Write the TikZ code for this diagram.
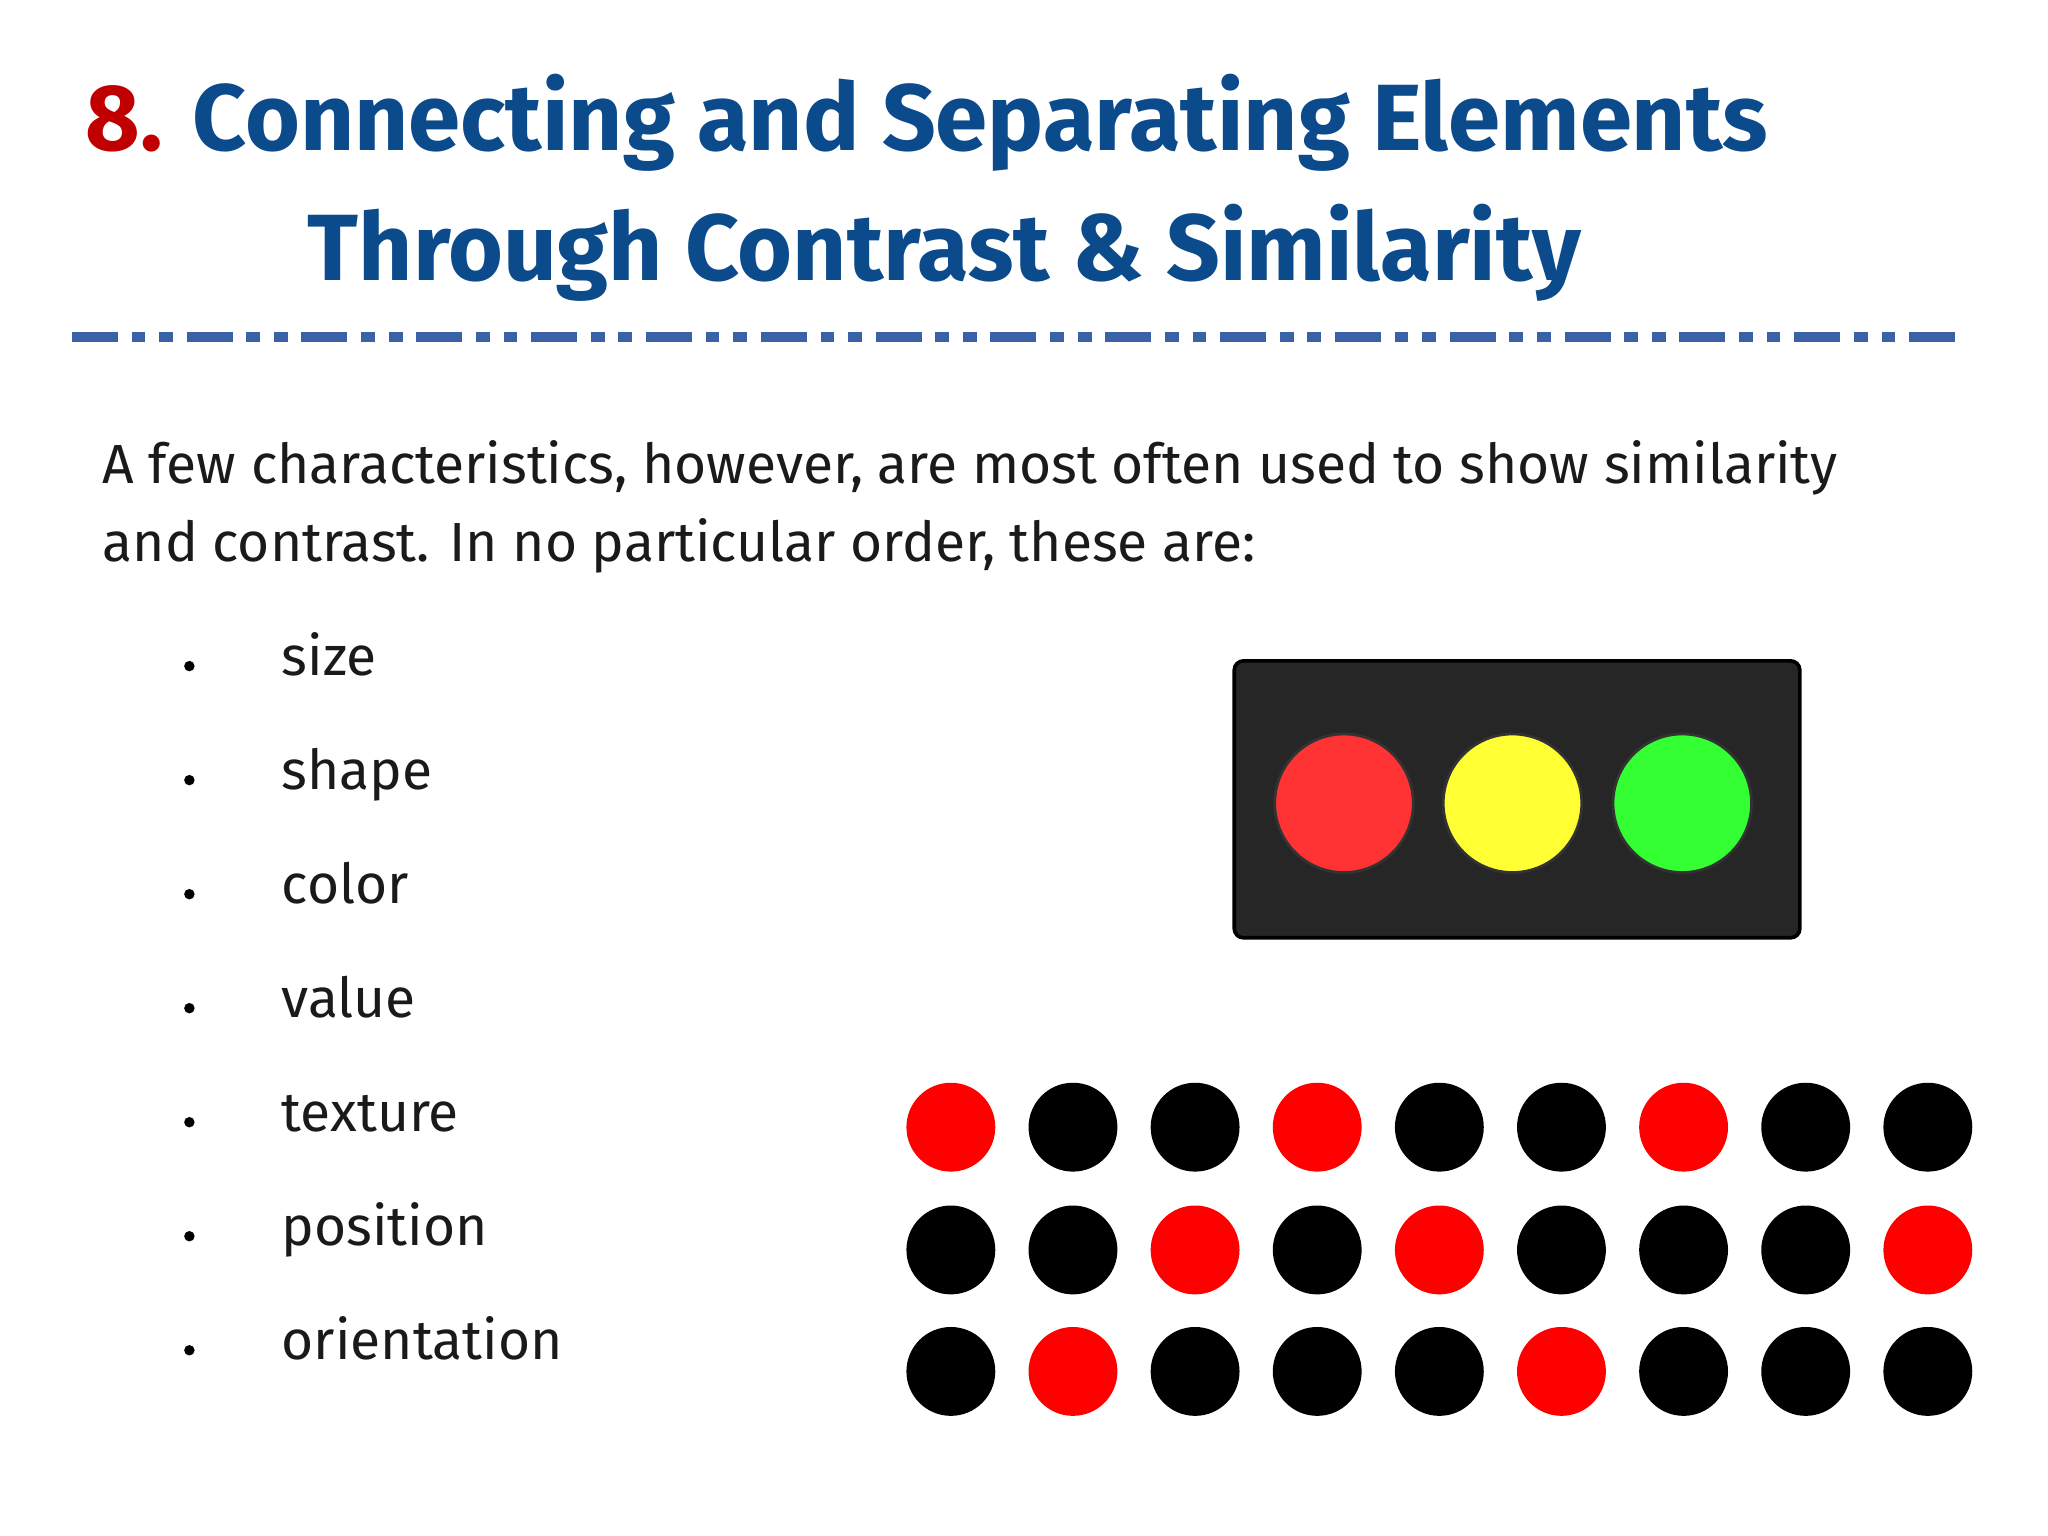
\documentclass[tikz,border=0pt]{standalone}
\usepackage{fontspec}
\setmainfont{Fira Sans}
\definecolor{ttl}{HTML}{0B4A8B}
\definecolor{num}{HTML}{C00000}
\definecolor{dashc}{HTML}{3B62A8}
\definecolor{bodyc}{HTML}{1A1A1A}
\definecolor{rd}{HTML}{FF0000}
\definecolor{lred}{HTML}{FF3333}
\definecolor{lyel}{HTML}{FFFF33}
\definecolor{lgrn}{HTML}{33FF33}
\begin{document}
\begin{tikzpicture}[x=0.01cm,y=-0.01cm,
  title/.style={anchor=base west,font=\fontsize{20.5}{24}\selectfont\bfseries,text=ttl,inner sep=0},
  body/.style={anchor=base west,font=\fontsize{12}{14}\selectfont,text=bodyc,inner sep=0},
  dot/.style={circle,minimum size=0.68cm,inner sep=0,fill=#1},
  lamp/.style={circle,minimum size=1.06cm,inner sep=0,fill=#1,draw=black!80,line width=0.6pt}]
\useasboundingbox[fill=white] (0,0) rectangle (1568,1176);
\node[title] (t1) at (65,115) {\textcolor{num}{8.} Connecting and Separating Elements};
\node[title] (t2) at (235,215) {Through Contrast \& Similarity};
\draw[dashc,line width=2.2pt,dash pattern=on 10pt off 3pt on 3pt off 3pt on 3pt off 3pt] (55,258) coordinate (d1) -- (1505,258) coordinate (d2);
\node[body] (p1) at (78,370) {A few characteristics, however, are most often used to show similarity};
\node[body] (p2) at (78,430) {and contrast. In no particular order, these are:};
\foreach \t [count=\i] in {size,shape,color,value,texture,position,orientation}{
  \node[circle,fill=black,minimum size=0.08cm,inner sep=0] (b\i) at (145,{510+87.3*(\i-1)}) {};
  \node[body] (l\i) at (215,{517+87.3*(\i-1)}) {\t};
}
\draw[fill=black!85,draw=black,line width=0.8pt,rounded corners=2pt] (945,506) rectangle (1378,718);
\node[lamp=lred] (r) at (1029,615) {};
\node[lamp=lyel] (y) at (1158,615) {};
\node[lamp=lgrn] (g) at (1288,615) {};
\foreach \row/\pat [count=\j] in {863/{1,0,0,1,0,0,1,0,0},957/{0,0,1,0,1,0,0,0,1},1050/{0,1,0,0,0,1,0,0,0}}{
  \foreach \p [count=\i] in \pat {
    \pgfmathsetmacro\xx{728+93.5*(\i-1)}
    \ifnum\p=1 \node[dot=rd] (c\j\i) at (\xx,\row) {};
    \else \node[dot=black] (c\j\i) at (\xx,\row) {};\fi
  }
}
\end{tikzpicture}
\end{document}
